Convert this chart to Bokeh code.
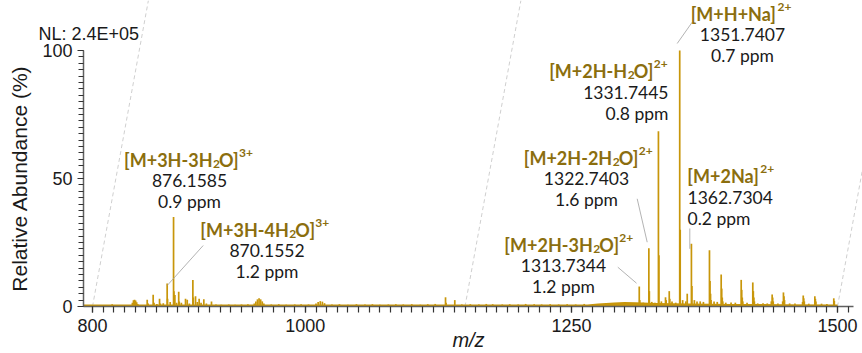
from bokeh.plotting import figure
from bokeh.models import Range1d, FixedTicker, Label
from bokeh.embed import file_html
from bokeh.resources import INLINE

# ---------------- data ----------------
PEAK_MZ = [
    818.5, 819.5,
    837.5, 838.5, 839.5, 840.5, 841.5, 842.5,
    851.4, 852.3, 857.0, 857.8, 860.5, 863.0, 863.8, 866.5,
    870.16, 870.5, 873.0, 876.16, 876.5, 877.4, 879.0,
    881.0, 881.5, 883.5, 887.4, 889.0, 891.0,
    894.3, 894.7, 896.8, 898.5, 900.2, 902.0, 904.6, 907.0, 911.8,
    916, 921, 928, 934, 940, 946,
    952, 953.5, 955, 956.5, 958, 959.5, 961,
    968, 975, 982, 990, 996, 1003,
    1010, 1012, 1014, 1016, 1018,
    1025, 1032, 1040, 1048, 1056, 1063, 1070, 1078, 1085, 1092, 1100, 1108, 1115, 1122,
    1131.7, 1132.2, 1140.4,
    1147, 1155, 1163, 1170, 1176, 1185, 1192, 1200, 1207, 1215, 1222, 1230, 1238, 1246, 1254, 1262,
    1313.73, 1314.2, 1317.5,
    1322.74, 1323.2, 1325.5, 1328.5,
    1331.74, 1332.2, 1334.5,
    1338.4, 1339.0, 1341.9, 1342.4, 1344.5, 1348.0,
    1351.74, 1352.2, 1354.5, 1357.5, 1358.8,
    1362.73, 1363.2, 1365.5, 1368.0, 1371.0, 1374.0,
    1379.7, 1380.2, 1380.7, 1381.2, 1384.0, 1387.0,
    1390.7, 1391.2, 1391.7, 1392.2, 1395.0, 1400.0, 1404.0,
    1409.5, 1410.0, 1410.5, 1411.0, 1415.0,
    1420.4, 1420.9, 1421.4, 1421.9, 1425.0, 1430.0, 1434.0,
    1437.8, 1438.6, 1439.1, 1439.6, 1444.0,
    1448.5, 1449.2, 1449.7, 1450.2, 1455.0, 1460.0,
    1467.2, 1467.8, 1468.3, 1468.8, 1473.0,
    1478.7, 1479.2, 1479.7, 1485.0, 1490.0,
    1496.5, 1497.0,
]
PEAK_INT = [
    0.9, 0.6,
    1.5, 2.4, 2.6, 2.3, 1.7, 1.0,
    2.6, 1.2, 4.6, 1.5, 1.0, 3.0, 1.2, 1.3,
    9.0, 3.0, 1.8, 35.0, 6.0, 4.5, 1.5,
    5.8, 2.0, 1.5, 3.0, 2.6, 1.2,
    10.4, 3.5, 4.0, 1.8, 3.0, 1.5, 2.8, 1.2, 2.0,
    0.8, 0.7, 0.8, 0.7, 0.8, 0.9,
    1.2, 2.0, 2.8, 3.2, 2.8, 2.0, 1.2,
    0.8, 0.9, 0.7, 0.8, 0.9, 0.8,
    1.2, 1.8, 2.1, 1.9, 1.3,
    0.8, 0.9, 0.7, 0.9, 0.8, 0.9, 0.7, 0.8, 0.9, 0.8, 0.9, 0.7, 0.9, 1.0,
    3.6, 1.5, 2.5,
    0.8, 0.9, 0.8, 1.0, 0.9, 0.8, 0.9, 0.8, 1.0, 0.9, 0.8, 0.9, 0.8, 0.9, 0.8, 1.0,
    7.8, 2.5, 1.5,
    22.8, 6.0, 1.8, 1.5,
    68.5, 20.0, 2.0,
    3.6, 2.5, 6.0, 3.0, 2.0, 1.5,
    100.0, 30.0, 2.5, 2.0, 5.0,
    24.5, 8.0, 2.5, 2.0, 2.0, 1.8,
    22.0, 10.0, 5.0, 2.5, 2.0, 1.8,
    12.5, 7.0, 3.5, 2.0, 1.5, 1.6, 1.5,
    10.4, 6.5, 3.5, 2.0, 1.5,
    9.4, 6.0, 3.5, 2.0, 1.2, 1.3, 1.2,
    2.0, 4.7, 3.5, 2.0, 1.2,
    2.0, 5.5, 4.0, 2.5, 1.2, 1.2,
    1.8, 4.3, 3.2, 2.0, 1.1,
    4.0, 3.0, 2.0, 1.1, 1.0,
    3.2, 2.2,
]
BASE_MZ = [792, 1265, 1275, 1290, 1300, 1310, 1330, 1360, 1400, 1450, 1500]
BASE_LVL = [0.8, 0.8, 1.2, 1.6, 1.8, 1.7, 1.4, 1.2, 1.0, 0.9, 0.8]

ION_HEAD = ["[M+3H-3H", "[M+3H-4H", "[M+H+Na]", "[M+2H-H", "[M+2H-2H", "[M+2H-3H", "[M+2Na]"]
ION_SUB = ["2", "2", "", "2", "2", "2", ""]
ION_TAIL = ["O]", "O]", "", "O]", "O]", "O]", ""]
ION_SUP = ["3+", "3+", "2+", "2+", "2+", "2+", "2+"]
ION_MZ = ["876.1585", "870.1552", "1351.7407", "1331.7445", "1322.7403", "1313.7344", "1362.7304"]
ION_PPM = ["0.9 ppm", "1.2 ppm", "0.7 ppm", "0.8 ppm", "1.6 ppm", "1.2 ppm", "0.2 ppm"]

X_TICKS = [800, 1000, 1250, 1500]
Y_TICKS = [0, 50, 100]
ZOOM_LOW_MZ = [800, 1150, 1500]
ZOOM_TOP_MZ = [852.5, 1202.5, 1552.5]
NL_TEXT = "NL: 2.4E+05"

# ---------------- layout ----------------
W, H = 862, 353
AXIS_X_PX, AXIS_Y_PX = 83, 306   # where the axes sit (px)
XREF_PX, KX, KY = 92, 1.0643, 2.56


def mzp(px):
    return 800 + (px - XREF_PX) / KX


def pcp(py):
    return (AXIS_Y_PX - py) / KY


GOLD = "#C8960A"
LABEL_GOLD = "#8B6E0E"
TXT = "#1a1a1a"
ANN_FONT = "Lato"
AX_FONT = "Liberation Sans"

# the frame covers the whole canvas; axes are pinned inside it
p = figure(width=W, height=H, output_backend="svg", toolbar_location=None,
           x_range=Range1d(mzp(0), mzp(W)), y_range=Range1d(pcp(H), pcp(0)),
           min_border_left=0, min_border_right=0, min_border_top=0,
           min_border_bottom=0)
p.outline_line_color = None
p.grid.visible = False
p.background_fill_color = "white"
p.border_fill_color = "white"

# zoom connector dashed lines
p.segment(x0=ZOOM_LOW_MZ, y0=[0] * 3, x1=ZOOM_TOP_MZ, y1=[pcp(0)] * 3,
          line_color="#cfcfcf", line_width=1, line_dash="4 3")

# spectrum
p.varea(x=BASE_MZ, y1=[0] * len(BASE_MZ), y2=BASE_LVL, fill_color=GOLD)
p.vbar(x=PEAK_MZ, top=PEAK_INT, bottom=0, width=1.6, fill_color=GOLD, line_color=None)

# axes
xa = p.xaxis[0]
xa.fixed_location = 0
xa.ticker = FixedTicker(ticks=X_TICKS, minor_ticks=list(range(800, 1511, 10)))
xa.bounds = (mzp(AXIS_X_PX), 1515)
xa.axis_label = "m/z"
xa.axis_label_text_font_style = "italic"
xa.axis_label_text_font = AX_FONT
xa.axis_label_text_font_size = "20px"
xa.axis_label_text_color = TXT
xa.axis_label_standoff = -6
xa.major_label_text_font = AX_FONT
xa.major_label_text_font_size = "18px"
xa.major_label_text_color = TXT
xa.major_label_standoff = 6

ya = p.yaxis[0]
ya.fixed_location = mzp(AXIS_X_PX)
ya.ticker = FixedTicker(ticks=Y_TICKS, minor_ticks=[i * 2.5 for i in range(41)])
ya.bounds = (0, 100)
ya.axis_label = "Relative Abundance (%)"
ya.axis_label_text_font_style = "normal"
ya.axis_label_text_font = AX_FONT
ya.axis_label_text_font_size = "21px"
ya.axis_label_text_color = TXT
ya.axis_label_standoff = 8
ya.major_label_text_font = AX_FONT
ya.major_label_text_font_size = "18px"
ya.major_label_text_color = TXT
ya.major_label_standoff = 5

for ax in (xa, ya):
    ax.axis_line_color = "#606060"
    ax.axis_line_width = 1.5
    ax.major_tick_line_color = "#333333"
    ax.minor_tick_line_color = "#333333"
    ax.major_tick_line_width = 1.2
    ax.minor_tick_line_width = 1.2
    ax.major_tick_in = 0
    ax.minor_tick_in = 0
xa.major_tick_out = 6
xa.minor_tick_out = 6
ya.major_tick_out = 6
ya.minor_tick_out = 5

# annotation blocks: (x_a px, label baseline px, number x px, number align)
BLOCK_POS = [
    (212.0, 159.0, 189.0, "center"),
    (288.3, 229.0, 266.5, "center"),
    (775.5, 13.0, 742.0, "center"),
    (626.7, 70.5, 668.0, "right"),
    (611.7, 157.0, 586.0, "center"),
    (592.3, 244.0, 563.0, "center"),
    (758.3, 175.5, 687.0, "left"),
]
# leader lines (px): from peak to label
LEADERS = [
    ((166.7, 285.0), (202.7, 245.0)),
    ((676.7, 43.0), (691.7, 21.7)),
    ((646.7, 241.7), (636.7, 198.3)),
    ((636.0, 282.7), (617.3, 266.7)),
    ((689.3, 248.3), (689.3, 228.0)),
]
p.segment(x0=[mzp(a[0]) for a, b in LEADERS], y0=[pcp(a[1]) for a, b in LEADERS],
          x1=[mzp(b[0]) for a, b in LEADERS], y1=[pcp(b[1]) for a, b in LEADERS],
          line_color="#a0a0a0", line_width=0.8)


def lab(xpx, ypx, text, align, size, bold, color, font=ANN_FONT):
    p.add_layout(Label(x=mzp(xpx), y=pcp(ypx), text=text, text_align=align,
                       text_baseline="alphabetic", text_font=font,
                       text_font_size=size,
                       text_font_style="bold" if bold else "normal",
                       text_color=color))


lab(38, 33, NL_TEXT, "left", "18px", False, TXT, AX_FONT)

for i, (xa_px, lb, nx, nal) in enumerate(BLOCK_POS):
    lab(xa_px, lb, ION_HEAD[i], "right", "18px", True, LABEL_GOLD)
    if ION_SUB[i]:
        lab(xa_px + 0.5, lb + 4, ION_SUB[i], "left", "12px", True, LABEL_GOLD)
        lab(xa_px + 6.5, lb, ION_TAIL[i], "left", "18px", True, LABEL_GOLD)
        sx = xa_px + 26.5
    else:
        sx = xa_px + 1.5
    lab(sx, lb - 7, ION_SUP[i], "left", "12px", True, LABEL_GOLD)
    lab(nx, lb + 21, ION_MZ[i], nal, "17.5px", False, TXT)
    lab(nx, lb + 42, ION_PPM[i], nal, "17.5px", False, TXT)

open("out.html", "w").write(file_html(p, INLINE))
